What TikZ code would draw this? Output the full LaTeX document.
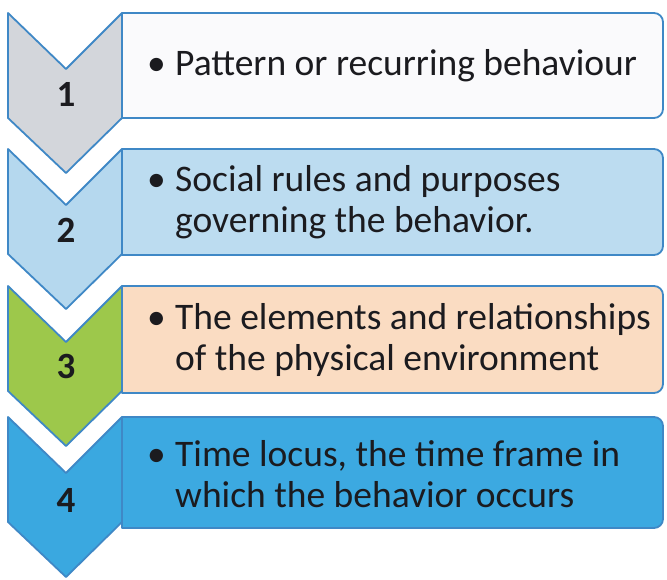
\documentclass[tikz,border=0pt]{standalone}
\usepackage{fontspec}
\setmainfont{Carlito}
\begin{document}
\begin{tikzpicture}[x=1pt,y=1pt,
  edge/.style={draw=edgeblue, line width=1.8pt, line join=round},
  numlabel/.style={font=\fontsize{37}{40}\selectfont\bfseries, text=inkdark, inner sep=0pt},
  itemtext/.style={font=\fontsize{37.5}{41}\selectfont, text=inkdark, align=left, anchor=west, inner sep=0pt}]
\definecolor{edgeblue}{HTML}{3F88C6}
\definecolor{inkdark}{HTML}{1B1B1F}
\definecolor{chevA}{HTML}{D3D6DB}
\definecolor{boxA}{HTML}{FAFAFC}
\definecolor{chevB}{HTML}{B5D8EE}
\definecolor{boxB}{HTML}{BCDCF0}
\definecolor{chevC}{HTML}{9DC84B}
\definecolor{boxC}{HTML}{FADCC2}
\definecolor{chevD}{HTML}{3AA8E0}
\definecolor{boxD}{HTML}{3CA9E1}
\useasboundingbox (0,0) rectangle (667,-579);
\fill[white] (0,0) rectangle (667,-579);

% chevron step with its card: #1 top, #2 bottom, #3 chevron fill, #4 card fill
\newcommand{\stepcard}[4]{%
  \path[edge, fill=#3] (8,-#1) -- (66,-#1-56) -- (122,-#1) -- (122,-#1-105)
     -- (66,-#1-160) -- (8,-#1-105) -- cycle;
  \path[edge, fill=#4] (122,-#1) -- (654,-#1) arc[start angle=90,end angle=0,radius=9]
     -- (663,-#2+9) arc[start angle=0,end angle=-90,radius=9] -- (122,-#2) -- cycle;
}

\stepcard{13}{118}{chevA}{boxA}
\stepcard{149}{255}{chevB}{boxB}
\stepcard{286}{393}{chevC}{boxC}
\stepcard{417}{528}{chevD}{boxD}

\node[numlabel] (n1) at (66,-94) {1};
\node[numlabel] (n2) at (66,-230) {2};
\node[numlabel] (n3) at (66,-366) {3};
\node[numlabel] (n4) at (66,-500) {4};

\node[itemtext] (t1) at (147,-66) {\makebox[28pt][l]{\textbullet}Pattern or recurring behaviour};
\node[itemtext] (t2) at (147,-202) {\makebox[28pt][l]{\textbullet}Social rules and purposes\\\hspace*{28pt}governing the behavior.};
\node[itemtext] (t3) at (147,-340) {\makebox[28pt][l]{\textbullet}The elements and relationships\\\hspace*{28pt}of the physical environment};
\node[itemtext] (t4) at (147,-474) {\makebox[28pt][l]{\textbullet}Time locus, the time frame in\\\hspace*{28pt}which the behavior occurs};
\end{tikzpicture}
\end{document}
